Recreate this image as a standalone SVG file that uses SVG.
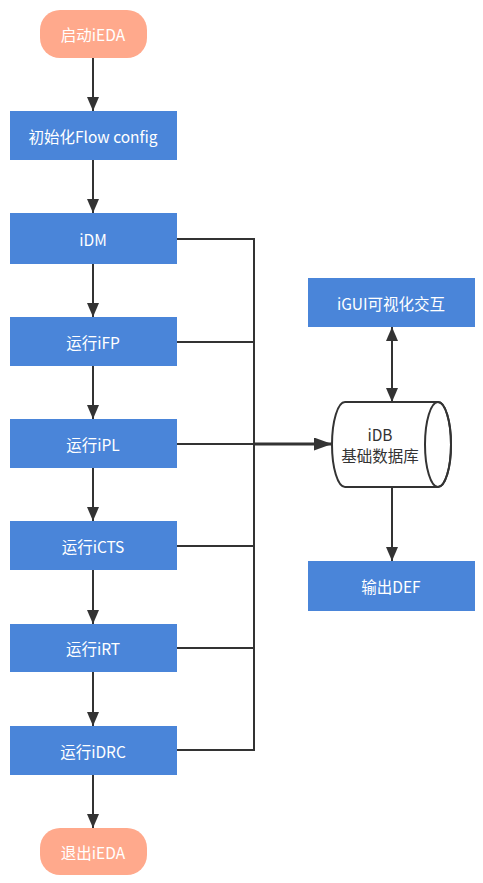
<svg xmlns="http://www.w3.org/2000/svg" width="483" height="883" viewBox="0 0 483 883">
<style>
.box{fill:#4a85d9;}
.pill{fill:#ffa98c;}
.t{font-family:"Microsoft YaHei","Noto Sans CJK SC",sans-serif;font-size:15.5px;fill:#ffffff;text-anchor:middle;dominant-baseline:central;}
.td{font-family:"Microsoft YaHei","Noto Sans CJK SC",sans-serif;font-size:15.5px;fill:#333333;text-anchor:middle;dominant-baseline:central;}
.ln{stroke:#333333;stroke-width:2;fill:none;}
</style>
<defs>
<marker id="ah" viewBox="0 0 14 12" refX="14" refY="6" markerWidth="14" markerHeight="12" markerUnits="userSpaceOnUse" orient="auto-start-reverse">
<path d="M0,0 L14,6 L0,12 Z" fill="#333333"/>
</marker>
<marker id="ahb" viewBox="0 0 18 13" refX="18" refY="6.5" markerWidth="18" markerHeight="13" markerUnits="userSpaceOnUse" orient="auto">
<path d="M0,0 L18,6.5 L0,13 Z" fill="#333333"/>
</marker>
</defs>
<g id="connectors">
<line class="ln" x1="93" y1="58" x2="93" y2="111" marker-end="url(#ah)"/>
<line class="ln" x1="93" y1="160" x2="93" y2="213" marker-end="url(#ah)"/>
<line class="ln" x1="93" y1="264" x2="93" y2="317" marker-end="url(#ah)"/>
<line class="ln" x1="93" y1="366" x2="93" y2="419" marker-end="url(#ah)"/>
<line class="ln" x1="93" y1="468" x2="93" y2="521" marker-end="url(#ah)"/>
<line class="ln" x1="93" y1="570" x2="93" y2="624" marker-end="url(#ah)"/>
<line class="ln" x1="93" y1="672" x2="93" y2="726" marker-end="url(#ah)"/>
<line class="ln" x1="93" y1="775" x2="93" y2="828" marker-end="url(#ah)"/>
<polyline class="ln" points="177,239 254,239 254,750 177,750"/>
<line class="ln" x1="177" y1="342" x2="254" y2="342"/>
<line class="ln" x1="177" y1="444" x2="254" y2="444"/>
<line class="ln" x1="177" y1="546" x2="254" y2="546"/>
<line class="ln" x1="177" y1="648" x2="254" y2="648"/>
<line class="ln" style="stroke-width:3" x1="254" y1="444" x2="332" y2="444" marker-end="url(#ahb)"/>
<line class="ln" x1="392" y1="327" x2="392" y2="402" marker-start="url(#ah)" marker-end="url(#ah)"/>
<line class="ln" x1="392" y1="487" x2="392" y2="561" marker-end="url(#ah)"/>
</g>
<g id="start"><rect class="pill" x="40" y="10" width="107" height="48" rx="20"/><text class="t" x="93" y="34">启动iEDA</text></g>
<g id="init"><rect class="box" x="10" y="111" width="167" height="49"/><text class="t" x="93" y="135.5">初始化Flow config</text></g>
<g id="idm"><rect class="box" x="10" y="213" width="167" height="51"/><text class="t" x="93" y="239">iDM</text></g>
<g id="ifp"><rect class="box" x="10" y="317" width="167" height="49"/><text class="t" x="93" y="341.5">运行iFP</text></g>
<g id="ipl"><rect class="box" x="10" y="419" width="167" height="49"/><text class="t" x="93" y="443.5">运行iPL</text></g>
<g id="icts"><rect class="box" x="10" y="521" width="167" height="49"/><text class="t" x="93" y="546">运行iCTS</text></g>
<g id="irt"><rect class="box" x="10" y="624" width="167" height="48"/><text class="t" x="93" y="648">运行iRT</text></g>
<g id="idrc"><rect class="box" x="10" y="726" width="167" height="49"/><text class="t" x="93" y="750.5">运行iDRC</text></g>
<g id="end"><rect class="pill" x="40" y="828" width="107" height="47" rx="20"/><text class="t" x="93" y="852">退出iEDA</text></g>
<g id="igui"><rect class="box" x="308" y="278" width="167" height="49"/><text class="t" x="391" y="302.5">iGUI可视化交互</text></g>
<g id="idb">
<path d="M345,402 L438,402 A13,42.5 0 0 1 438,487 L345,487 A13,42.5 0 0 1 345,402 Z" fill="#ffffff" stroke="#333333" stroke-width="2"/>
<ellipse cx="438" cy="444.5" rx="13" ry="42.5" fill="none" stroke="#333333" stroke-width="2"/>
<text class="td" x="380" y="434">iDB</text>
<text class="td" x="380" y="455">基础数据库</text>
</g>
<g id="def"><rect class="box" x="308" y="561" width="167" height="50"/><text class="t" x="391" y="586">输出DEF</text></g>
</svg>
